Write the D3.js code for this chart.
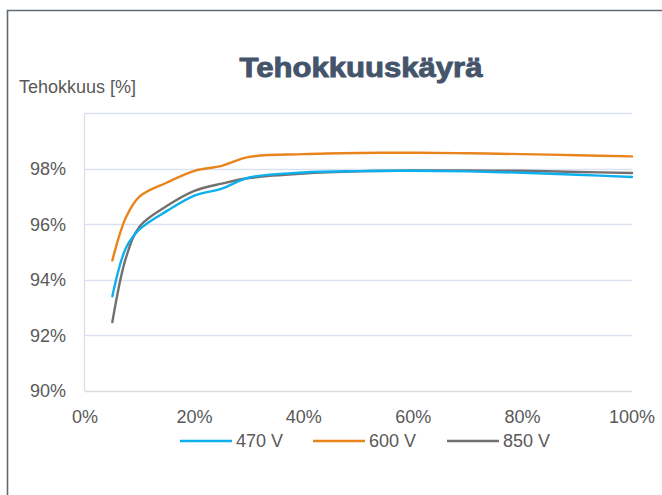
<!DOCTYPE html>
<html>
<head>
<meta charset="utf-8">
<title>Tehokkuuskäyrä</title>
<style>
body { margin: 0; background: #fff; }
text { font-family: "Liberation Sans", Arial, sans-serif; fill: #595959; }
.grid line { stroke: #d9e1f2; stroke-width: 1.3px; }
.series { fill: none; stroke-width: 2.4px; stroke-linecap: round; stroke-linejoin: round; }
</style>
</head>
<body>
<script src="https://cdn.jsdelivr.net/npm/d3@7/dist/d3.min.js"></script>
<script>
// load level (% of nominal power)
var loads = [5, 7.5, 10, 15, 20, 25, 30, 40, 50, 60, 70, 80, 90, 100];

// efficiency [%] per DC voltage
var eff470 = [93.41, 95.15, 95.82, 96.48, 97.03, 97.28, 97.68, 97.86, 97.91, 97.92, 97.90, 97.85, 97.78, 97.70];
var eff600 = [94.70, 96.25, 97.00, 97.50, 97.92, 98.10, 98.42, 98.52, 98.56, 98.57, 98.55, 98.52, 98.48, 98.44];
var eff850 = [92.48, 94.80, 95.92, 96.66, 97.20, 97.46, 97.66, 97.82, 97.90, 97.93, 97.93, 97.92, 97.88, 97.84];

var seriesNames = ["470 V", "600 V", "850 V"];
var seriesColors = ["#0cb0ec", "#e9841d", "#747070"];

var yTicks = [90, 92, 94, 96, 98];
var xTicks = [0, 20, 40, 60, 80, 100];

var width = 662, height = 495;

var svg = d3.select("body").append("svg")
  .attr("width", width)
  .attr("height", height);

// outer frame (top + left edge visible)
svg.append("path")
  .attr("d", "M7.5,495 V10.5 H662")
  .attr("fill", "none")
  .attr("stroke", "#626b73")
  .attr("stroke-width", 1.6);

var x = d3.scaleLinear().domain([0, 100]).range([85, 632]);
var y = d3.scaleLinear().domain([90, 100]).range([391, 113]);

// gridlines
svg.append("g")
  .attr("class", "grid")
  .selectAll("line")
  .data([92, 94, 96, 98, 100])
  .enter().append("line")
  .attr("x1", x(0))
  .attr("x2", x(100))
  .attr("y1", function(d) { return Math.round(y(d)) + 0.5; })
  .attr("y2", function(d) { return Math.round(y(d)) + 0.5; });

// axis lines
svg.append("line")
  .attr("x1", x(0) - 0.5).attr("x2", x(0) - 0.5)
  .attr("y1", y(100)).attr("y2", y(90))
  .attr("stroke", "#dedede").attr("stroke-width", 1.3);
svg.append("line")
  .attr("x1", x(0)).attr("x2", x(100))
  .attr("y1", Math.round(y(90)) + 0.5).attr("y2", Math.round(y(90)) + 0.5)
  .attr("stroke", "#dcdcdc").attr("stroke-width", 1.3);

// y tick labels
svg.append("g")
  .selectAll("text")
  .data(yTicks)
  .enter().append("text")
  .attr("x", 66)
  .attr("y", function(d) { return y(d); })
  .attr("dy", "0.36em")
  .attr("text-anchor", "end")
  .style("font-size", "18px")
  .text(function(d) { return d + "%"; });

// x tick labels
svg.append("g")
  .selectAll("text")
  .data(xTicks)
  .enter().append("text")
  .attr("x", function(d) { return x(d); })
  .attr("y", 423)
  .attr("text-anchor", "middle")
  .style("font-size", "18px")
  .text(function(d) { return d + "%"; });

// series lines
var line = d3.line()
  .x(function(d) { return x(d[0]); })
  .y(function(d) { return y(d[1]); })
  .curve(d3.curveCatmullRom.alpha(0.5));

var allSeries = [eff470, eff600, eff850];
// draw order: 600 V, 850 V, then 470 V on top
[1, 2, 0].forEach(function(i) {
  svg.append("path")
    .attr("class", "series")
    .attr("stroke", seriesColors[i])
    .attr("d", line(d3.zip(loads, allSeries[i])));
});

// title
svg.append("text")
  .attr("x", 361)
  .attr("y", 77)
  .attr("text-anchor", "middle")
  .attr("textLength", 243)
  .attr("lengthAdjust", "spacingAndGlyphs")
  .style("font-size", "27px")
  .style("font-weight", "bold")
  .style("fill", "#44546a")
  .style("stroke", "#44546a")
  .style("stroke-width", "0.9px")
  .text("Tehokkuuskäyrä");

// y axis title
svg.append("text")
  .attr("x", 19)
  .attr("y", 93)
  .style("font-size", "18px")
  .text("Tehokkuus [%]");

// legend
var legendX = [180, 313, 447];
var legend = svg.append("g")
  .selectAll("g")
  .data(seriesNames)
  .enter().append("g")
  .attr("transform", function(d, i) { return "translate(" + legendX[i] + ",441)"; });

legend.append("line")
  .attr("x1", 0).attr("x2", 52)
  .attr("y1", 0).attr("y2", 0)
  .attr("stroke", function(d, i) { return seriesColors[i]; })
  .attr("stroke-width", 2.4);

legend.append("text")
  .attr("x", 56)
  .attr("y", 0)
  .attr("dy", "0.36em")
  .style("font-size", "18px")
  .text(function(d) { return d; });
</script>
</body>
</html>
